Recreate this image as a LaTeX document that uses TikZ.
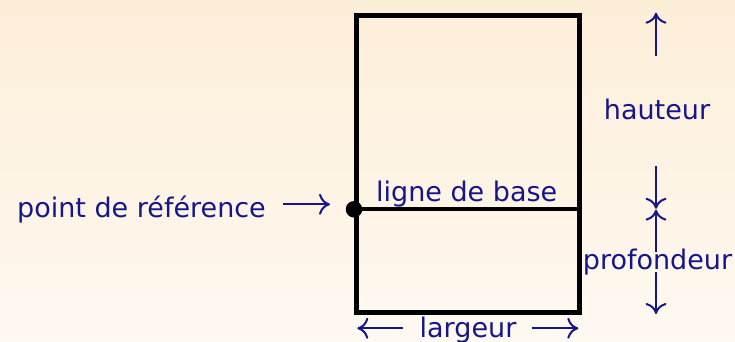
\documentclass[tikz,border=0pt]{standalone}
\usepackage{fontspec}
\setmainfont{DejaVu Sans}
\usetikzlibrary{arrows.meta}
\definecolor{ink}{RGB}{22,22,140}
\definecolor{bgtop}{RGB}{253,238,216}
\definecolor{bgbot}{RGB}{254,249,241}
\begin{document}
\begin{tikzpicture}[x=1pt,y=-1pt,
  lbl/.style={text=ink,font=\fontsize{27}{32}\selectfont,inner sep=0pt},
  arr/.style={draw=ink,line width=2pt,-{Computer Modern Rightarrow[length=11pt,width=21pt,line width=2pt]}},
  boxline/.style={line width=5pt,black}]
\shade[top color=bgtop,bottom color=bgbot] (0,0) rectangle (735,341);
\useasboundingbox (0,0) rectangle (735,341);
% box
\coordinate (TL) at (356.8,15.8);
\coordinate (BR) at (579.6,312.5);
\draw[boxline] (TL) rectangle (BR);
\node[circle,fill=black,inner sep=0pt,minimum size=16.5pt] (dot) at (354,209.3) {};
\coordinate (BE) at (BR |- dot);
\draw[line width=3.8pt] (dot.center) -- (BE);
% labels
\node[lbl,anchor=base] (ref) at (141.5,217.3) {point de référence};
\node[lbl,anchor=base] (base) at (466.7,201) {ligne de base};
\node[lbl,anchor=base] (larg) at (468,337) {largeur};
\node[lbl,anchor=base] (haut) at (657,119.3) {hauteur};
\node[lbl,anchor=base] (prof) at (657.5,269) {profondeur};
% arrow end points
\coordinate (refA) at (283.3,204.3);
\coordinate (refB) at (330,204.3);
\coordinate (lgA) at (403,328.3);
\coordinate (lgB) at (357.3,328.3);
\coordinate (rgA) at (531.7,328.3);
\coordinate (rgB) at (578.3,328.3);
\coordinate (huA) at (656,56);
\coordinate (huB) at (656,12.7);
\coordinate (hdA) at (656,165.7);
\coordinate (hdB) at (656,208.8);
\coordinate (puA) at (656,252);
\coordinate (puB) at (656,209.6);
\coordinate (pdA) at (656,272);
\coordinate (pdB) at (656,314);
\draw[arr] (refA) -- (refB);
\draw[arr] (lgA) -- (lgB);
\draw[arr] (rgA) -- (rgB);
\draw[arr] (huA) -- (huB);
\draw[arr] (hdA) -- (hdB);
\draw[arr] (puA) -- (puB);
\draw[arr] (pdA) -- (pdB);
\end{tikzpicture}
\end{document}
